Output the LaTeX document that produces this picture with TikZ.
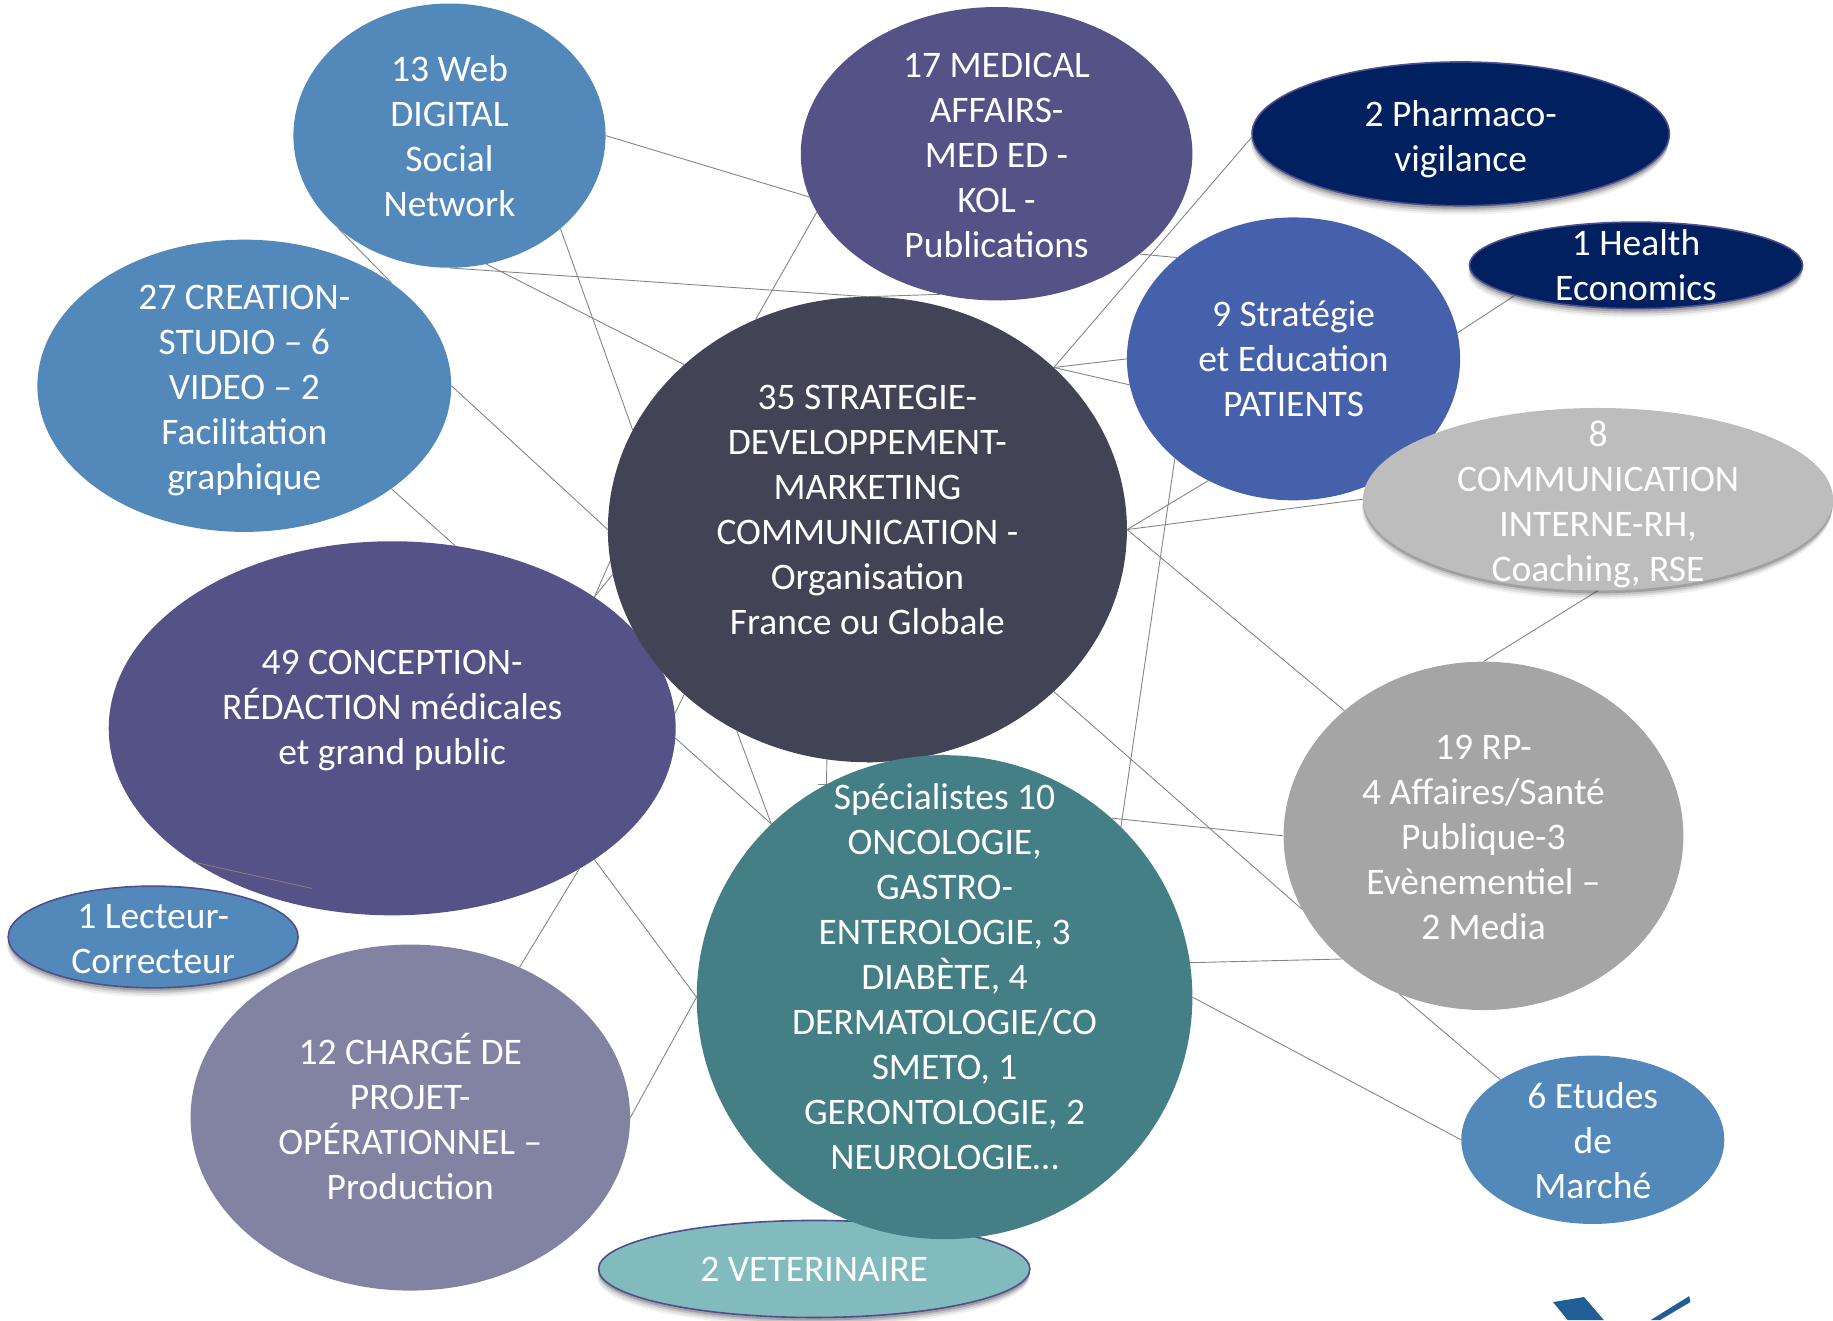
\documentclass[tikz,border=0pt]{standalone}
\usepackage{fontspec}
\setmainfont{Carlito}
\usetikzlibrary{shapes.geometric,shadows,backgrounds}
\definecolor{cWeb}{HTML}{5389BA}
\definecolor{cMed}{HTML}{555288}
\definecolor{cNavy}{HTML}{00205F}
\definecolor{cStrat}{HTML}{4661AC}
\definecolor{cComm}{HTML}{BDBDBD}
\definecolor{cCenter}{HTML}{434356}
\definecolor{cChef}{HTML}{8283A2}
\definecolor{cSpec}{HTML}{447F85}
\definecolor{cVet}{HTML}{82BBBE}
\definecolor{cRP}{HTML}{A5A5A5}
\definecolor{cLine}{HTML}{858585}
\definecolor{cEdge}{HTML}{4F4F8F}
\definecolor{cLogo}{HTML}{215E96}
\tikzset{
  bub/.style n args={3}{shape=ellipse,draw=none,fill=#3,inner sep=0pt,
    minimum width=#1*2.33802pt,minimum height=#2*2.33802pt},
  txt/.style={text=white,align=center,font=\fontsize{37.5}{45}\selectfont,inner sep=0pt},
  softshadow/.style={
    general shadow={fill=black,opacity=.05,shadow yshift=-9pt,shadow xshift=-1pt},
    general shadow={fill=black,opacity=.08,shadow yshift=-7pt,shadow xshift=-1pt},
    general shadow={fill=black,opacity=.12,shadow yshift=-5pt},
    general shadow={fill=black,opacity=.18,shadow yshift=-3pt}},
  rim/.style={draw=cEdge,line width=1.6pt},
  link/.style={draw=cLine,line width=0.9pt},
}
\begin{document}
\begin{tikzpicture}[x=1.16901pt,y=-1.16901pt]
\useasboundingbox (0,0) rectangle (1568,1129.2);
\node[bub={133.5}{113}{cWeb},label={[txt,yshift=-1pt]center:{13 Web\\DIGITAL\\Social\\Network}}] (web) at (384.5,116) {};
\node[bub={167.5}{125.5}{cMed},label={[txt,yshift=-2pt]center:{17 MEDICAL\\AFFAIRS-\\MED ED -\\KOL -\\Publications}}] (med) at (852.5,131.5) {};
\node[bub={178.5}{61.5}{cNavy},rim,softshadow,label={[txt,yshift=-5.5pt]center:{2 Pharmaco-\\vigilance}}] (pharma) at (1249.5,114.5) {};
\node[bub={142.5}{37}{cNavy},rim,softshadow,label={[txt]center:{1 Health\\Economics}}] (health) at (1399.5,227) {};
\node[bub={142.5}{121}{cStrat},label={[txt]center:{9 Stratégie\\et Education\\PATIENTS}}] (strat) at (1106.5,307) {};
\node[bub={201}{78}{cComm},softshadow,label={[txt,yshift=-5pt]center:{8\\COMMUNICATION\\INTERNE-RH,\\Coaching, RSE}}] (comm) at (1367,427) {};
\node[bub={177}{125}{cWeb},label={[txt,yshift=-4.7pt]center:{27 CREATION-\\STUDIO – 6\\VIDEO – 2\\Facilitation\\graphique}}] (crea) at (209,330) {};
\node[bub={242.5}{160}{cMed},label={[txt,yshift=18pt]center:{49 CONCEPTION-\\RÉDACTION médicales\\et grand public}}] (conc) at (335.5,623) {};
\node[bub={222}{199}{cCenter},label={[txt,yshift=20pt]center:{35 STRATEGIE-\\DEVELOPPEMENT-\\MARKETING\\COMMUNICATION -\\Organisation\\France ou Globale}}] (core) at (742,453) {};
\node[bub={124}{43.5}{cWeb},rim,softshadow,label={[txt,yshift=-2pt]center:{1 Lecteur-\\Correcteur}}] (lect) at (131,801.5) {};
\node[bub={188}{148}{cChef},label={[txt,yshift=1pt]center:{12 CHARGÉ DE\\PROJET-\\OPÉRATIONNEL –\\Production}}] (chef) at (351,956) {};
\node[bub={184.5}{41.5}{cVet},rim,softshadow,label={[txt]center:{2 VETERINAIRE}}] (vet) at (696.5,1085.5) {};
\node[bub={212}{207}{cSpec},label={[txt,yshift=20.5pt]center:{Spécialistes 10\\ONCOLOGIE,\\GASTRO-\\ENTEROLOGIE, 3\\DIABÈTE, 4\\DERMATOLOGIE/CO\\SMETO, 1\\GERONTOLOGIE, 2\\NEUROLOGIE…}}] (spec) at (808,853) {};
\node[bub={171}{149}{cRP},label={[txt,yshift=-2pt]center:{19 RP-\\4 Affaires/Santé\\Publique-3\\Evènementiel –\\2 Media}}] (rp) at (1269,715) {};
\node[bub={112.5}{72}{cWeb},label={[txt,yshift=-1pt]center:{6 Etudes\\de\\Marché}}] (etud) at (1362.5,975) {};
% short stray stroke lying on the large purple bubble
\coordinate (concEnd) at (267,760);
\draw[draw=cLine!80!brown,line width=0.7pt] (conc.214.8) -- (concEnd);
% logo fragment
\fill[cLogo] (1328.5,1113.8) -- (1355,1109.5) -- (1372,1129.2) -- (1341,1129.2) -- cycle;
\fill[cLogo] (1412,1129.2) -- (1445,1108.7) -- (1446,1113.8) -- (1420,1129.2) -- cycle;
\begin{scope}[on background layer]
\draw[link] (web.-40.3) -- (core.157.6);
\draw[link] (web.0) -- (med.193.6);
\draw[link] (web.-90) -- (core.90);
\draw[link] (med.248.9) -- (core.90);
\draw[link] (web.-74.5) -- (core.138.3);
\draw[link] (web.220.9) -- (crea.35.8);
\draw[link] (crea.0) -- (core.180);
\draw[link] (crea.-35.5) -- (conc.71.2);
\draw[link] (conc.33.4) -- (core.187.8);
\draw[link] (conc.33.4) -- (core.190.9);
\draw[link] (conc.3.8) -- (core.222.3);
\draw[link] (conc.-2.8) -- (spec.135.4);
\draw[link] (core.237) -- (spec.135.4);
\draw[link] (core.260.5) -- (spec.119.3);
\draw[link] (spec.119.3) -- ++(-7,0);
\draw[link] (core.270) -- (spec.90);
\draw[link] (conc.-33.6) -- (spec.180);
\draw[link] (conc.-37.8) -- (chef.54);
\draw[link] (chef.-0.3) -- (spec.180);
\draw[link] (med.198.7) -- (core.118.2);
\draw[link] (med.-35.7) -- (strat.139.7);
\draw[link] (pharma.181.1) -- (core.41.5);
\draw[link] (core.41.5) -- (strat.180);
\draw[link] (core.41.5) -- (strat.189.8);
\draw[link] (health.194.1) -- (strat.9.2);
\draw[link] (core.0) -- (strat.235.5);
\draw[link] (core.0) -- (comm.180.3);
\draw[link] (core.0) -- (rp.138.6);
\draw[link] (strat.220.3) -- (spec.44.2);
\draw[link] (spec.47.1) -- (rp.180);
\draw[link] (spec.8.05) -- (rp.221.7);
\draw[link] (core.-41.7) -- (rp.202.9);
\draw[link] (spec.0) -- (etud.180);
\draw[link] (rp.242.4) -- (etud.147.6);
\draw[link] (comm.-90.7) -- (rp.90);
\end{scope}
\end{tikzpicture}
\end{document}
